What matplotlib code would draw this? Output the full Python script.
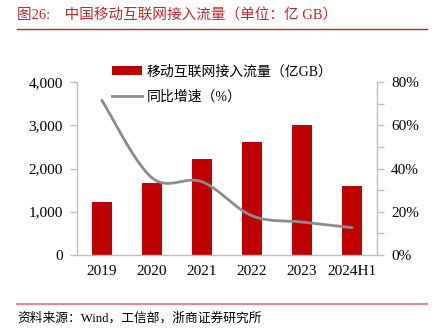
import matplotlib
matplotlib.use("Agg")
import matplotlib.pyplot as plt
import numpy as np
from matplotlib.lines import Line2D
from matplotlib.patches import Patch
from matplotlib.ticker import FuncFormatter, MultipleLocator

CN = ["Liberation Serif", "Noto Sans CJK SC"]
plt.rcParams["font.family"] = CN

categories = ["2019", "2020", "2021", "2022", "2023", "2024H1"]
traffic = [1220, 1656, 2216, 2618, 3015, 1604]  # 亿GB
growth = [71.6, 35.7, 33.9, 18.1, 15.2, 12.6]  # %

BAR_RED = "#C00000"
LINE_GRAY = "#8C8C8C"
AXIS_GRAY = "#BFBFBF"


def smooth(xs, ys, n=30):
    # Excel-style smoothed line: cubic bezier, control points from neighbours
    xs = np.asarray(xs, float)
    ys = np.asarray(ys, float)
    px, py = [], []
    for i in range(len(xs) - 1):
        x0, y0 = xs[max(i - 1, 0)], ys[max(i - 1, 0)]
        x1, y1 = xs[i], ys[i]
        x2, y2 = xs[i + 1], ys[i + 1]
        x3, y3 = xs[min(i + 2, len(xs) - 1)], ys[min(i + 2, len(xs) - 1)]
        c1x, c1y = x1 + (x2 - x0) / 6, y1 + (y2 - y0) / 6
        c2x, c2y = x2 - (x3 - x1) / 6, y2 - (y3 - y1) / 6
        t = np.linspace(0, 1, n)
        a, b, c, d = (1 - t) ** 3, 3 * (1 - t) ** 2 * t, 3 * (1 - t) * t ** 2, t ** 3
        px.extend(a * x1 + b * c1x + c * c2x + d * x2)
        py.extend(a * y1 + b * c1y + c * c2y + d * y2)
    return np.array(px), np.array(py)


fig = plt.figure(figsize=(4.34, 3.34), dpi=100)
ax = fig.add_axes([0.177, 0.237, 0.692, 0.517])
ax2 = ax.twinx()

x = np.arange(len(categories))
ax.bar(x, traffic, width=0.4, color=BAR_RED, zorder=2)
sx, sy = smooth(x, growth)
ax2.plot(sx, sy, color=LINE_GRAY, linewidth=2, solid_capstyle="round")

ax.set_xlim(-0.5, len(categories) - 0.5)
ax.set_ylim(0, 4000)
ax.yaxis.set_major_locator(MultipleLocator(1000))
ax.yaxis.set_major_formatter(FuncFormatter(lambda v, p: f"{v:,.0f}"))
ax2.set_ylim(0, 80)
ax2.yaxis.set_major_locator(MultipleLocator(20))
ax2.yaxis.set_minor_locator(MultipleLocator(10))
ax2.yaxis.set_major_formatter(FuncFormatter(lambda v, p: f"{v:.0f}%"))

ax.set_xticks(x)
ax.set_xticklabels(categories)

for a in (ax, ax2):
    a.spines["top"].set_visible(False)
    for side in ("left", "right", "bottom"):
        a.spines[side].set_color(AXIS_GRAY)
        a.spines[side].set_linewidth(1)
    a.tick_params(axis="both", labelsize=11, colors=AXIS_GRAY, labelcolor="black",
                  length=5, width=1, pad=5)
ax.spines["right"].set_visible(False)
ax2.spines["left"].set_visible(False)
ax2.spines["bottom"].set_visible(False)
ax.tick_params(axis="x", length=0, pad=7)
ax2.tick_params(axis="y", which="minor", length=5, width=1, colors=AXIS_GRAY)

handles = [Patch(facecolor=BAR_RED, edgecolor="none"),
           Line2D([0], [0], color=LINE_GRAY, linewidth=2)]
labels = ["移动互联网接入流量（亿GB）", "同比增速（%）"]
fig.legend(handles, labels, loc="upper left", bbox_to_anchor=(0.245, 0.822),
           frameon=False, fontsize=10, handlelength=2.2, handletextpad=0.3,
           labelspacing=0.85, borderaxespad=0)

fig.text(0.04, 0.955, "图26:    中国移动互联网接入流量（单位：亿 GB）",
         color="#C0282D", fontsize=10.5, va="center", ha="left")
fig.add_artist(Line2D([0.04, 0.984], [0.913, 0.913], color="#C0282D", linewidth=1))
fig.add_artist(Line2D([0.04, 0.984], [0.091, 0.091], color="#E48A8A", linewidth=1.5))
fig.text(0.04, 0.048, "资料来源：Wind，工信部，浙商证券研究所",
         fontsize=9.2, va="center", ha="left")

fig.savefig("out.png", dpi=100)
